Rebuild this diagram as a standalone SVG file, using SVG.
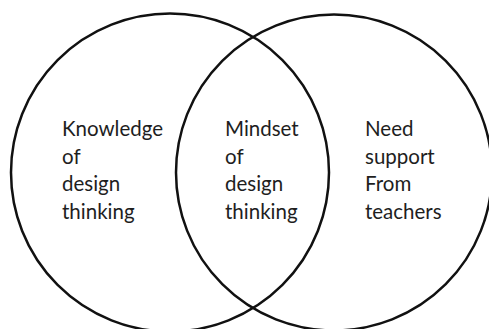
<svg xmlns="http://www.w3.org/2000/svg" width="489" height="329" viewBox="0 0 489 329">
  <style>
    .ring { fill: none; stroke: #111; stroke-width: 2.5; }
    .label { font-family: Lato, "Open Sans", "Liberation Sans", sans-serif; font-size: 20.5px; fill: #1e1e1e; }
  </style>
  <rect width="489" height="329" fill="#fff"/>
  <g id="sets">
    <g id="knowledge">
      <circle class="ring" cx="170" cy="172.5" r="159"/>
      <text class="label" x="62" y="136">Knowledge</text>
      <text class="label" x="62" y="163.5">of</text>
      <text class="label" x="62" y="191">design</text>
      <text class="label" x="62" y="218.5">thinking</text>
    </g>
    <g id="support">
      <circle class="ring" cx="334" cy="172.5" r="158"/>
      <text class="label" x="365" y="136">Need</text>
      <text class="label" x="365" y="163.5">support</text>
      <text class="label" x="365" y="191">From</text>
      <text class="label" x="365" y="218.5">teachers</text>
    </g>
    <g id="mindset">
      <text class="label" x="225" y="136">Mindset</text>
      <text class="label" x="225" y="163.5">of</text>
      <text class="label" x="225" y="191">design</text>
      <text class="label" x="225" y="218.5">thinking</text>
    </g>
  </g>
  <g id="connectors"/>
</svg>
